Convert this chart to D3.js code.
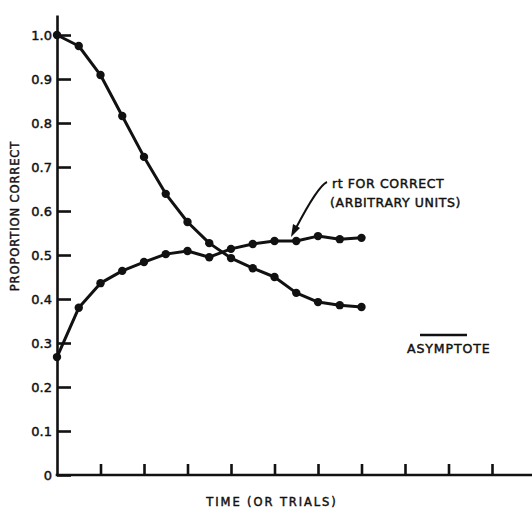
<!DOCTYPE html>
<html>
  <head>
    <meta charset="utf-8">
    <script src="https://cdn.jsdelivr.net/npm/d3@7/dist/d3.min.js"></script>
    <style>
      body {
        margin: 0;
        background: #ffffff;
      }

      svg text {
        font-family: "DejaVu Sans", sans-serif;
        fill: #111111;
        stroke: #111111;
        stroke-width: 0.45px;
      }

      .axis path,
      .axis line {
        stroke: #111111;
        stroke-width: 2.6px;
      }

      .axis text {
        font-size: 13px;
      }

      .curve {
        fill: none;
        stroke: #111111;
        stroke-width: 3px;
        stroke-linejoin: round;
      }

      .dot {
        fill: #111111;
      }

      .label {
        font-size: 11.5px;
        letter-spacing: 1.9px;
      }

      .note {
        font-size: 12.5px;
        letter-spacing: 0.6px;
      }
    </style>
  </head>
  <body>
    <script>
      // trial index (points every half tick)
      const trials = d3.range(0, 15);

      // proportion correct, falling curve
      const proportionCorrect = [
        1.0, 0.975, 0.909, 0.816, 0.723, 0.639, 0.575, 0.527,
        0.493, 0.47, 0.45, 0.414, 0.393, 0.386, 0.382
      ];

      // rt for correct (arbitrary units), rising curve
      const rtCorrect = [
        0.268, 0.38, 0.436, 0.464, 0.484, 0.502, 0.509, 0.495,
        0.514, 0.525, 0.532, 0.532, 0.543, 0.536, 0.539
      ];

      const yTicks = [0, 0.1, 0.2, 0.3, 0.4, 0.5, 0.6, 0.7, 0.8, 0.9, 1.0];
      const xTicks = [2, 4, 6, 8, 10, 12, 14, 16, 18, 20];

      const width = 532;
      const height = 517;

      const xScale = d3.scaleLinear()
        .domain([0, 20])
        .range([57, 492]);

      const yScale = d3.scaleLinear()
        .domain([0, 1.0455])
        .range([475, 15]);

      const svg = d3.select('body')
        .append('svg')
        .attr('width', width)
        .attr('height', height);

      // y axis, ticks pointing inward
      svg.append('g')
        .attr('class', 'axis')
        .attr('transform', `translate(${xScale(0)},0)`)
        .call(d3.axisLeft(yScale)
          .tickValues(yTicks)
          .tickSize(-14)
          .tickSizeOuter(0)
          .tickPadding(5)
          .tickFormat(d => d === 0 ? '0' : d3.format('.1f')(d)))
        .call(g => g.selectAll('.tick text').attr('dy', '0.38em'));

      // x axis: no labels, runs to the right edge
      const xAxis = svg.append('g')
        .attr('class', 'axis')
        .attr('transform', `translate(0,${yScale(0)})`)
        .call(d3.axisBottom(xScale)
          .tickValues(xTicks)
          .tickSize(-11)
          .tickSizeOuter(0)
          .tickFormat(''));
      xAxis.select('.domain')
        .attr('d', `M${xScale(0) - 1.3},0H${width}`);

      const line = d3.line()
        .x((d, i) => xScale(trials[i]))
        .y(d => yScale(d));

      [proportionCorrect, rtCorrect].forEach(values => {
        svg.append('path')
          .datum(values)
          .attr('class', 'curve')
          .attr('d', line);

        svg.selectAll(null)
          .data(values)
          .enter()
          .append('circle')
          .attr('class', 'dot')
          .attr('cx', (d, i) => xScale(trials[i]))
          .attr('cy', d => yScale(d))
          .attr('r', 4.2);
      });

      // axis titles
      svg.append('text')
        .attr('class', 'label')
        .attr('x', 272)
        .attr('y', 506)
        .attr('text-anchor', 'middle')
        .text('TIME (OR TRIALS)');

      svg.append('text')
        .attr('class', 'label')
        .attr('transform', 'translate(19,216) rotate(-90)')
        .attr('text-anchor', 'middle')
        .style('letter-spacing', '0.9px')
        .text('PROPORTION CORRECT');

      // annotation with arrow
      svg.append('text')
        .attr('class', 'note')
        .attr('x', 332)
        .attr('y', 188)
        .text('rt FOR CORRECT');

      svg.append('text')
        .attr('class', 'note')
        .attr('x', 330)
        .attr('y', 207)
        .text('(ARBITRARY UNITS)');

      svg.append('path')
        .attr('d', 'M327,182 Q318,186 296,228')
        .attr('fill', 'none')
        .attr('stroke', '#111')
        .attr('stroke-width', 2);

      svg.append('path')
        .attr('d', 'M291,237 L293,224 L300,228 Z')
        .attr('fill', '#111');

      // asymptote key
      svg.append('line')
        .attr('x1', 420)
        .attr('x2', 467)
        .attr('y1', 335)
        .attr('y2', 335)
        .attr('stroke', '#111')
        .attr('stroke-width', 2.5);

      svg.append('text')
        .attr('class', 'note')
        .attr('x', 407)
        .attr('y', 353)
        .style('letter-spacing', '0.9px')
        .text('ASYMPTOTE');
    </script>
  </body>
</html>
